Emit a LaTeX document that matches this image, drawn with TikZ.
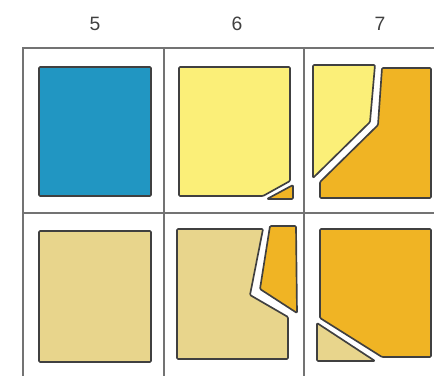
\documentclass[tikz,border=0pt]{standalone}
\usepackage{fontspec}
\setsansfont{Liberation Sans}
\usepackage{tikz}
\definecolor{tileblue}{HTML}{2196C2}
\definecolor{tiletan}{HTML}{E8D58C}
\definecolor{tileyel}{HTML}{FBEF78}
\definecolor{tileorg}{HTML}{F0B424}
\tikzset{
  gridln/.style={draw=black!55, line width=0.9pt},
  tile/.style={draw=black!75, line width=0.95pt, rounded corners=0.6pt, line join=round},
  collbl/.style={font=\sffamily\fontsize{11}{13}\selectfont, text=black!75, inner sep=0pt},
}
\begin{document}
\begin{tikzpicture}[x=0.02cm, y=-0.02cm]
\useasboundingbox (0,0) rectangle (434,376);
\clip (0,0) rectangle (434,376);
% column numbers
\node[collbl] (c5) at (95,24) {5};
\node[collbl] (c6) at (237,24) {6};
\node[collbl] (c7) at (380,24) {7};
% grid
\draw[gridln] (23,380) -- (23,48) -- (440,48);
\draw[gridln] (164,48) -- (164,380);
\draw[gridln] (304,48) -- (304,380);
\draw[gridln] (23,213) -- (440,213);
% column 5
\draw[tile, fill=tileblue] (39,67) rectangle (151,196);
\draw[tile, fill=tiletan] (39,231) rectangle (151,362);
% column 6, top
\draw[tile, fill=tileyel] (179,67) -- (290,67) -- (290,181) -- (263,196) -- (179,196) -- cycle;
\draw[tile, fill=tileorg] (267,199) -- (293,185) -- (293,199) -- cycle;
% column 6, bottom
\draw[tile, fill=tiletan] (177,229) -- (263,229) -- (250,295) -- (288,317) -- (288,359) -- (177,359) -- cycle;
\draw[tile, fill=tileorg] (270,226) -- (296,226) -- (297,313) -- (260,289) -- cycle;
% column 7, top
\draw[tile, fill=tileyel] (313,65) -- (375,65) -- (370,122) -- (313,178) -- cycle;
\draw[tile, fill=tileorg] (382,68) -- (431,68) -- (431,198) -- (320,198) -- (320,182) -- (378,125) -- cycle;
% column 7, bottom
\draw[tile, fill=tileorg] (320,229) -- (431,229) -- (431,357) -- (382,357) -- (320,318) -- cycle;
\draw[tile, fill=tiletan] (317,323) -- (375,361) -- (317,361) -- cycle;
\end{tikzpicture}
\end{document}
